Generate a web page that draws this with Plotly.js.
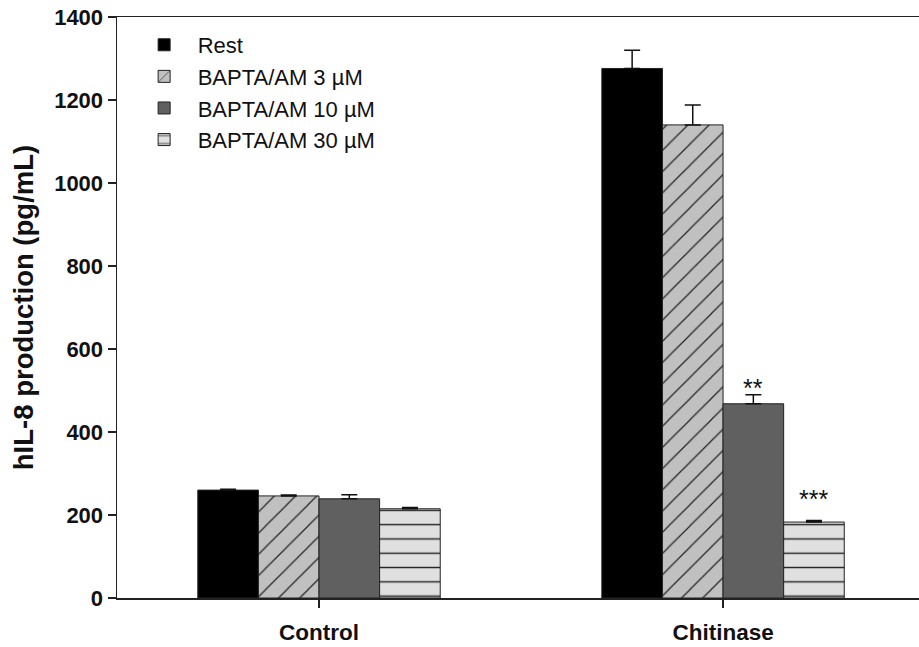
<!DOCTYPE html>
<html>
<head>
<meta charset="utf-8">
<script src="https://cdn.plot.ly/plotly-3.0.1.min.js"></script>
<style>html,body{margin:0;padding:0;background:#fff;}#chart{width:919px;height:647px;}</style>
</head>
<body>
<div id="chart"></div>
<script>
// ---- data ----
const categories = ["Control", "Chitinase"];
const seriesNames = ["Rest", "BAPTA/AM 3 \u00b5M", "BAPTA/AM 10 \u00b5M", "BAPTA/AM 30 \u00b5M"];
const restValues   = [260, 1276];
const bapta3Values = [246, 1140];
const bapta10Values = [239, 468];
const bapta30Values = [215, 183];
const restErr   = [2, 44];
const bapta3Err = [2, 48];
const bapta10Err = [10, 22];
const bapta30Err = [3, 4];
// significance marks: series index, category index, label, label height (pg/mL)
const sigSeries = [2, 3];
const sigCategory = [1, 1];
const sigLabels = ["**", "***"];
const sigY = [506, 239];
const yTickVals = [0, 200, 400, 600, 800, 1000, 1200, 1400];

// ---- styling ----
const values = [restValues, bapta3Values, bapta10Values, bapta30Values];
const errs = [restErr, bapta3Err, bapta10Err, bapta30Err];
const fills = ["#000000", "#c0c0c0", "#606060", "#e0e0e0"];
const patterns = [
  null,
  {shape: "/", fgcolor: "#222222", bgcolor: "#c0c0c0", size: 15, solidity: 0.08, fillmode: "replace"},
  null,
  {shape: "-", fgcolor: "#222222", bgcolor: "#e0e0e0", size: 14.3, solidity: 0.1, fillmode: "replace"}
];
const FONT = "Arial, 'Liberation Sans', Helvetica, sans-serif";

const traces = values.map((v, i) => {
  const marker = {color: fills[i], line: {color: "#222222", width: 1}};
  if (patterns[i]) marker.pattern = patterns[i];
  return {
    type: "bar",
    name: seriesNames[i],
    x: categories,
    y: v,
    marker: marker,
    error_y: {
      type: "data", symmetric: false,
      array: errs[i], arrayminus: v.map(() => 0),
      color: "#111111", thickness: 1.5, width: 8
    },
    hoverinfo: "x+y+name"
  };
});

const nSeries = values.length;
const bargap = 0.4;
const barW = (1 - bargap) / nSeries;
const annotations = sigLabels.map((t, k) => ({
  x: sigCategory[k] + (sigSeries[k] - (nSeries - 1) / 2) * barW,
  y: sigY[k],
  xref: "x", yref: "y",
  text: t, showarrow: false,
  xanchor: "center", yanchor: "middle",
  font: {family: FONT, size: 25, color: "#111111"}
}));

const layout = {
  width: 919, height: 647,
  margin: {l: 117, r: 0, t: 17, b: 49, pad: 0},
  paper_bgcolor: "#ffffff", plot_bgcolor: "#ffffff",
  barmode: "group", bargap: bargap, bargroupgap: 0,
  showlegend: true,
  legend: {
    x: 0.017, y: 0.988, xanchor: "left", yanchor: "top",
    bgcolor: "rgba(0,0,0,0)", borderwidth: 0,
    font: {family: FONT, size: 22, color: "#111111"},
    itemwidth: 57, traceorder: "normal",
    itemclick: false, itemdoubleclick: false
  },
  xaxis: {
    type: "category", range: [-0.5, 1.485],
    showline: true, linecolor: "#222222", linewidth: 1.5, mirror: true,
    ticks: "outside", ticklen: 8, tickwidth: 1.5, tickcolor: "#222222",
    ticklabelstandoff: 5,
    showgrid: false, zeroline: false,
    tickfont: {family: FONT, size: 22.5, color: "#111111", weight: "bold"}
  },
  yaxis: {
    range: [0, 1400], tickvals: yTickVals,
    showline: true, linecolor: "#222222", linewidth: 1.5, mirror: false,
    ticks: "outside", ticklen: 8, tickwidth: 1.5, tickcolor: "#222222",
    showgrid: false, zeroline: false,
    tickfont: {family: FONT, size: 22, color: "#111111", weight: "bold"},
    title: {text: "hIL-8 production (pg/mL)", standoff: 12,
            font: {family: FONT, size: 27.5, color: "#111111", weight: "bold"}}
  },
  annotations: annotations
};

Plotly.newPlot("chart", traces, layout, {displayModeBar: false, staticPlot: true});
</script>
</body>
</html>
